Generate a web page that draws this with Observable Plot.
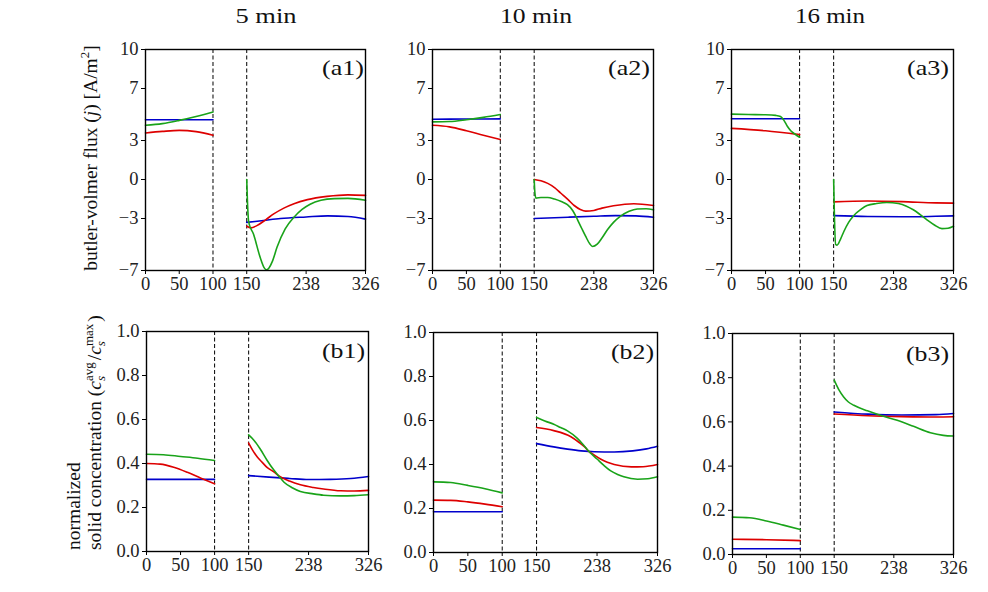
<!DOCTYPE html>
<html><head><meta charset="utf-8">
<script src="https://cdn.jsdelivr.net/npm/d3@7"></script>
<script src="https://cdn.jsdelivr.net/npm/@observablehq/plot@0.6"></script>
<style>
body{margin:0;background:#fff;}
#fig{position:relative;width:988px;height:592px;background:#fff;overflow:hidden;}
</style></head>
<body><div id="fig"></div>
<script>
// ---------- data ----------
const xTicks = [0, 50, 100, 150, 238, 326];
const fluxTicks = [-7, -3, 0, 3, 7, 10];
const concTicks = [0, 0.2, 0.4, 0.6, 0.8, 1.0];
const separators = [100, 150];
const titles = ["5 min", "10 min", "16 min"];
const topLabels = ["(a1)", "(a2)", "(a3)"];
const bottomLabels = ["(b1)", "(b2)", "(b3)"];

// (a1) 5 min flux
const a1_blue_L = [[0,4.6],[50,4.6],[100,4.6]];
const a1_red_L = [[0,3.58],[25,3.7],[50,3.78],[75,3.68],[100,3.4]];
const a1_green_L = [[0,4.17],[25,4.3],[50,4.55],[75,4.85],[100,5.2]];
const a1_blue_R = [[150,-3.3],[175,-3.15],[200,-3.0],[238,-2.88],[270,-2.8],[300,-2.85],[326,-3.05]];
const a1_red_R = [[150,-3.6],[156,-3.72],[165,-3.55],[178,-3.1],[190,-2.65],[205,-2.2],[220,-1.86],[240,-1.55],[269,-1.3],[300,-1.18],[326,-1.22]];
const a1_green_R = [[150,0],[151,-1.6],[153,-3.3],[160,-4.2],[170,-6.0],[176,-6.8],[179,-6.95],[183,-6.8],[188,-6.3],[195,-5.2],[207,-3.8],[220,-2.9],[232,-2.3],[244,-1.9],[260,-1.6],[280,-1.47],[300,-1.45],[326,-1.6]];

// (a2) 10 min flux
const a2_blue_L = [[0,4.64],[50,4.65],[100,4.66]];
const a2_red_L = [[0,4.17],[25,4.05],[50,3.75],[75,3.4],[100,3.07]];
const a2_green_L = [[0,4.43],[25,4.46],[50,4.6],[75,4.78],[100,5.0]];
const a2_blue_R = [[150,-3.0],[200,-2.9],[238,-2.83],[270,-2.78],[300,-2.8],[326,-2.9]];
const a2_red_R = [[150,0],[160,-0.1],[170,-0.3],[180,-0.62],[189,-1.04],[200,-1.55],[209,-2.0],[218,-2.3],[226,-2.43],[238,-2.38],[250,-2.2],[267,-2.02],[297,-1.86],[326,-2.0]];
const a2_green_R = [[150,0],[151,-1.0],[152.5,-1.43],[160,-1.38],[170,-1.38],[180,-1.5],[190,-1.7],[199,-1.94],[207,-2.4],[214,-3.1],[220,-3.75],[226,-4.38],[232,-4.95],[236,-5.15],[243,-4.97],[250,-4.5],[258,-3.87],[267,-3.3],[277,-2.84],[290,-2.45],[302,-2.27],[315,-2.25],[326,-2.33]];

// (a3) 16 min flux
const a3_blue_L = [[0,4.67],[100,4.67]];
const a3_red_L = [[0,3.93],[50,3.75],[100,3.45]];
const a3_green_L = [[0,5.03],[25,5.0],[50,4.98],[65,4.93],[72,4.85],[77,4.55],[82,4.1],[87,3.75],[93,3.5],[100,3.25]];
const a3_blue_R = [[150,-2.78],[200,-2.85],[250,-2.87],[300,-2.83],[326,-2.8]];
const a3_red_R = [[150,-1.72],[200,-1.65],[250,-1.7],[300,-1.8],[326,-1.82]];
const a3_green_R = [[150,0],[151,-2.5],[153,-5.0],[155,-5.05],[160,-4.6],[165,-4.0],[172,-3.3],[179,-2.8],[190,-2.3],[199,-2.0],[213,-1.85],[228,-1.77],[245,-1.85],[257,-2.05],[267,-2.33],[277,-2.7],[287,-3.1],[298,-3.5],[309,-3.78],[318,-3.75],[326,-3.6]];

// (b1) 5 min concentration
const b1_blue_L = [[0,0.328],[100,0.328]];
const b1_red_L = [[0,0.40],[20,0.397],[40,0.383],[60,0.36],[80,0.333],[100,0.308]];
const b1_green_L = [[0,0.442],[25,0.44],[50,0.432],[75,0.424],[100,0.414]];
const b1_blue_R = [[150,0.345],[180,0.338],[210,0.332],[238,0.327],[270,0.328],[300,0.332],[326,0.341]];
const b1_red_R = [[150,0.493],[156,0.46],[163,0.428],[170,0.405],[177,0.382],[187,0.362],[195,0.343],[210,0.32],[226,0.303],[245,0.291],[260,0.284],[285,0.276],[305,0.275],[326,0.278]];
const b1_green_R = [[150,0.53],[158,0.505],[167,0.466],[177,0.415],[187,0.37],[195,0.34],[202,0.315],[214,0.29],[226,0.273],[245,0.262],[260,0.256],[285,0.253],[305,0.254],[326,0.258]];

// (b2) 10 min concentration
const b2_blue_L = [[0,0.185],[100,0.185]];
const b2_red_L = [[0,0.238],[25,0.237],[50,0.23],[75,0.22],[100,0.208]];
const b2_green_L = [[0,0.321],[25,0.318],[50,0.305],[75,0.29],[100,0.271]];
const b2_blue_R = [[150,0.495],[175,0.48],[195,0.47],[215,0.462],[234,0.458],[263,0.457],[290,0.462],[310,0.471],[326,0.483]];
const b2_red_R = [[150,0.568],[175,0.554],[200,0.526],[212,0.5],[220,0.48],[226,0.46],[233,0.445],[243,0.425],[253,0.41],[263,0.4],[288,0.389],[305,0.39],[326,0.4]];
const b2_green_R = [[150,0.614],[162,0.598],[175,0.583],[185,0.568],[195,0.553],[209,0.52],[218,0.49],[226,0.46],[238,0.425],[248,0.396],[258,0.371],[268,0.355],[277,0.344],[297,0.333],[312,0.335],[326,0.344]];

// (b3) 16 min concentration
const b3_blue_L = [[0,0.026],[100,0.026]];
const b3_red_L = [[0,0.069],[50,0.067],[100,0.063]];
const b3_green_L = [[0,0.169],[25,0.166],[50,0.152],[75,0.133],[100,0.113]];
const b3_blue_R = [[150,0.645],[200,0.635],[250,0.631],[300,0.633],[326,0.638]];
const b3_red_R = [[150,0.636],[200,0.628],[250,0.624],[300,0.622],[326,0.623]];
const b3_green_R = [[150,0.789],[157,0.745],[164,0.713],[171,0.69],[179,0.675],[199,0.65],[218,0.63],[243,0.607],[267,0.58],[292,0.551],[311,0.539],[326,0.536]];

// ---------- styling ----------
const BLUE = "#0000cc", RED = "#dd0000", GREEN = "#19a319";
const FONT = "'Liberation Serif', 'DejaVu Serif', serif";
const fig = document.getElementById("fig");

const fmtFlux = d => d < 0 ? "\u2212" + Math.abs(d) : String(d);
const fmtConc = d => d.toFixed(1);

function panel(box, yDomain, yTicks, yFmt, sets) {
  const ml = 52, mr = 14, mt = 10, mb = 36;
  const marks = [
    Plot.ruleX(separators, {stroke: "black", strokeWidth: 1, strokeDasharray: "4,2.5"})
  ];
  for (const [segs, color] of sets) {
    for (const seg of segs) {
      marks.push(Plot.line(seg, {x: d => d[0], y: d => d[1], stroke: color, strokeWidth: 1.6, curve: "monotone-x"}));
    }
  }
  marks.push(
    Plot.frame({stroke: "black", strokeWidth: 1.4}),
    Plot.axisX({ticks: xTicks, tickSize: 4, tickPadding: 2, tickFormat: d => String(d), label: null, stroke: "black",
                fontSize: 18.5, fontFamily: FONT, fill: "#222"}),
    Plot.axisY({ticks: yTicks, tickSize: 4, tickPadding: 3, tickFormat: yFmt, label: null, stroke: "black",
                fontSize: 18.5, fontFamily: FONT, fill: "#222"})
  );
  const chart = Plot.plot({
    width: box.w + ml + mr, height: box.h + mt + mb,
    marginLeft: ml, marginRight: mr, marginTop: mt, marginBottom: mb,
    x: {domain: [0, 326]}, y: {domain: yDomain},
    style: {background: "transparent", fontFamily: FONT, fontSize: "18.5px", color: "#222", overflow: "visible"},
    marks
  });
  chart.style.position = "absolute";
  chart.style.left = (box.x - ml) + "px";
  chart.style.top = (box.y - mt) + "px";
  fig.appendChild(chart);
}

panel({x:145,y:49,w:220,h:221}, [-7,10], fluxTicks, fmtFlux,
  [[[a1_blue_L,a1_blue_R],BLUE],[[a1_red_L,a1_red_R],RED],[[a1_green_L,a1_green_R],GREEN]]);
panel({x:432,y:49,w:221,h:221}, [-7,10], fluxTicks, fmtFlux,
  [[[a2_blue_L,a2_blue_R],BLUE],[[a2_red_L,a2_red_R],RED],[[a2_green_L,a2_green_R],GREEN]]);
panel({x:731,y:49,w:222,h:221}, [-7,10], fluxTicks, fmtFlux,
  [[[a3_blue_L,a3_blue_R],BLUE],[[a3_red_L,a3_red_R],RED],[[a3_green_L,a3_green_R],GREEN]]);
panel({x:146,y:331,w:222,h:220}, [0,1], concTicks, fmtConc,
  [[[b1_blue_L,b1_blue_R],BLUE],[[b1_red_L,b1_red_R],RED],[[b1_green_L,b1_green_R],GREEN]]);
panel({x:433,y:332,w:224,h:220}, [0,1], concTicks, fmtConc,
  [[[b2_blue_L,b2_blue_R],BLUE],[[b2_red_L,b2_red_R],RED],[[b2_green_L,b2_green_R],GREEN]]);
panel({x:732,y:333,w:221,h:221}, [0,1], concTicks, fmtConc,
  [[[b3_blue_L,b3_blue_R],BLUE],[[b3_red_L,b3_red_R],RED],[[b3_green_L,b3_green_R],GREEN]]);

// ---------- overlay text: titles, panel labels, axis labels ----------
const svg = d3.select(fig).append("svg")
  .attr("width", 988).attr("height", 592)
  .style("position", "absolute").style("left", "0px").style("top", "0px")
  .style("pointer-events", "none")
  .attr("font-family", FONT).attr("fill", "#111");

const titlePos = [[266, 23, 61], [536, 23, 72], [830, 23, 70]];
titles.forEach((t, i) => {
  svg.append("text").attr("x", titlePos[i][0]).attr("y", titlePos[i][1])
    .attr("text-anchor", "middle").attr("font-size", 21)
    .attr("textLength", titlePos[i][2]).attr("lengthAdjust", "spacingAndGlyphs").text(t);
});

const topLabPos = [[364, 75], [650, 75], [949, 75]];
topLabels.forEach((t, i) => {
  svg.append("text").attr("x", topLabPos[i][0]).attr("y", topLabPos[i][1])
    .attr("text-anchor", "end").attr("font-size", 21)
    .attr("textLength", 42).attr("lengthAdjust", "spacingAndGlyphs").text(t);
});
const botLabPos = [[365, 358], [654, 359], [949, 361]];
bottomLabels.forEach((t, i) => {
  svg.append("text").attr("x", botLabPos[i][0]).attr("y", botLabPos[i][1])
    .attr("text-anchor", "end").attr("font-size", 21)
    .attr("textLength", 43).attr("lengthAdjust", "spacingAndGlyphs").text(t);
});

// top y label
const yl1 = svg.append("text").attr("transform", "translate(97,158) rotate(-90)")
  .attr("text-anchor", "middle").attr("font-size", 19.5);
yl1.append("tspan").text("butler-volmer flux (");
yl1.append("tspan").attr("font-style", "italic").text("j");
yl1.append("tspan").text(") [A/m");
yl1.append("tspan").attr("font-size", 13).attr("dy", -8).text("2");
yl1.append("tspan").attr("dy", 8).text("]");

// bottom y label (two lines)
svg.append("text").attr("transform", "translate(80,550) rotate(-90)")
  .attr("text-anchor", "start").attr("font-size", 19.5).text("normalized");
const yl2 = svg.append("text").attr("transform", "translate(101,550) rotate(-90)")
  .attr("text-anchor", "start").attr("font-size", 19.5);
yl2.append("tspan").text("solid concentration (");
yl2.append("tspan").attr("font-style", "italic").text("c");
yl2.append("tspan").attr("font-size", 13).attr("font-style", "italic").attr("dy", 4).text("s");
yl2.append("tspan").attr("font-size", 13).attr("dx", -5).attr("dy", -12).text("avg");
yl2.append("tspan").attr("dy", 8).attr("dx", 2).text("/");
yl2.append("tspan").attr("font-style", "italic").text("c");
yl2.append("tspan").attr("font-size", 13).attr("font-style", "italic").attr("dy", 4).text("s");
yl2.append("tspan").attr("font-size", 13).attr("dx", -5).attr("dy", -12).text("max");
yl2.append("tspan").attr("dy", 8).attr("dx", 2).text(")");
</script>
</body></html>
